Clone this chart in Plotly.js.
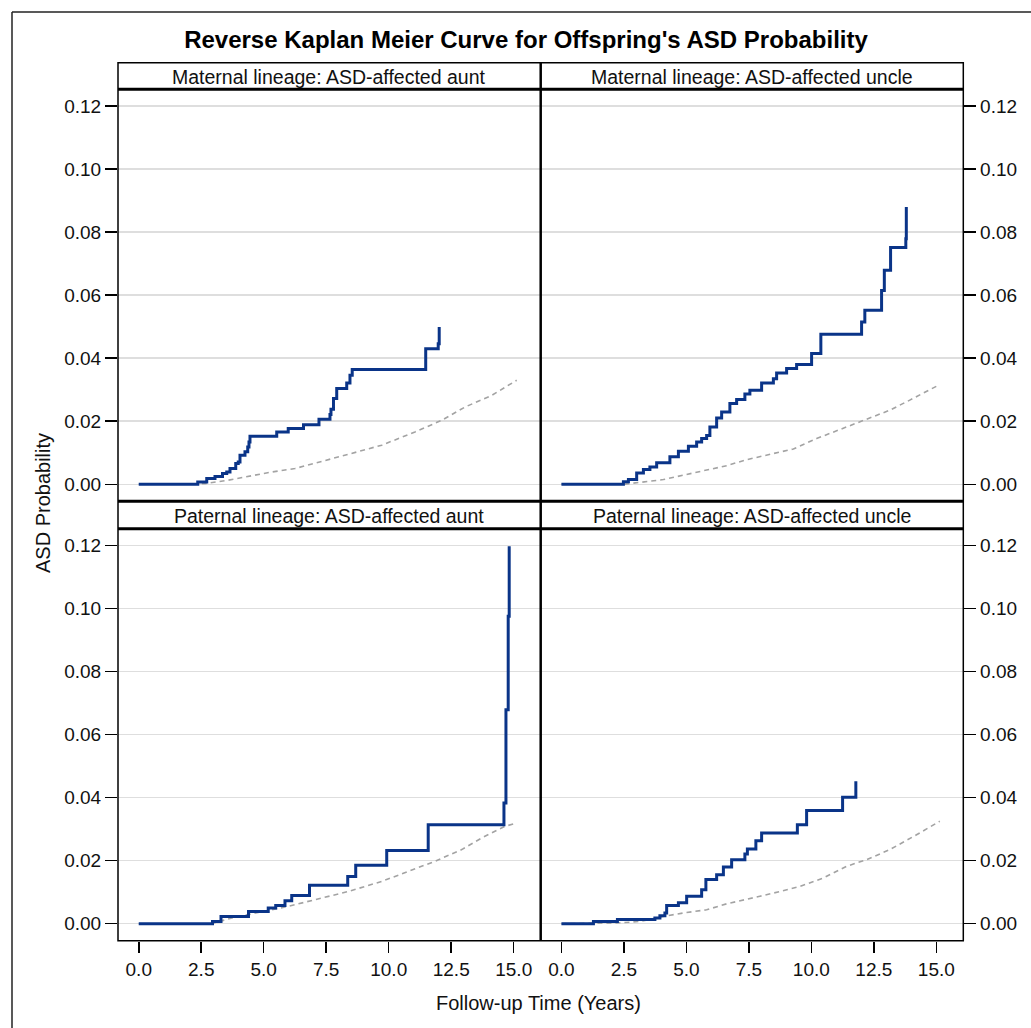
<!DOCTYPE html>
<html>
<head>
<meta charset="utf-8">
<script src="https://cdn.plot.ly/plotly-3.0.1.min.js"></script>
<style>html,body{margin:0;padding:0;background:#fff;}#chart{width:1031px;height:1028px;}</style>
</head>
<body>
<div id="chart"></div>
<script>
// ---------- DATA ----------
const chartTitle = "Reverse Kaplan Meier Curve for Offspring's ASD Probability";
const panelTitles = ["Maternal lineage: ASD-affected aunt", "Maternal lineage: ASD-affected uncle",
                     "Paternal lineage: ASD-affected aunt", "Paternal lineage: ASD-affected uncle"];
const xTitle = "Follow-up Time (Years)";
const yTitle = "ASD Probability";
const xTickVals = [0, 2.5, 5, 7.5, 10, 12.5, 15];
const yTickVals = [0, 0.02, 0.04, 0.06, 0.08, 0.10, 0.12];

// Maternal aunt
const maAuntTime = [0, 2.36, 2.72, 3.05, 3.35, 3.52, 3.65, 3.88, 3.98, 4.05, 4.25, 4.36, 4.41, 4.45, 5.52, 5.98, 6.59, 7.21, 7.65, 7.69, 7.79, 7.92, 8.32, 8.45, 8.54, 11.48, 11.98, 12.02];
const maAuntProb = [0, 0.0007, 0.0018, 0.0025, 0.0034, 0.0039, 0.0050, 0.0066, 0.0071, 0.0092, 0.0103, 0.0118, 0.0134, 0.0152, 0.0166, 0.0177, 0.0189, 0.0206, 0.0221, 0.0238, 0.0272, 0.0304, 0.0321, 0.0346, 0.0364, 0.0430, 0.0446, 0.0499];
const maAuntExpTime = [0, 2.65, 3.58, 4.39, 5.32, 6.25, 7.05, 8.38, 9.72, 11.05, 12.12, 13.05, 14.12, 15.12];
const maAuntExpProb = [0, 0.0002, 0.0013, 0.0026, 0.0039, 0.0050, 0.0066, 0.0095, 0.0124, 0.0166, 0.0203, 0.0245, 0.0282, 0.0330];

// Maternal uncle
const maUncleTime = [0, 2.48, 2.68, 3.01, 3.28, 3.54, 3.81, 4.34, 4.68, 5.08, 5.41, 5.61, 5.81, 5.94, 6.21, 6.41, 6.74, 7.01, 7.34, 7.54, 8.01, 8.48, 8.61, 9.01, 9.41, 10.01, 10.38, 12.01, 12.14, 12.81, 12.92, 13.17, 13.78, 13.80];
const maUncleProb = [0, 0.0008, 0.0015, 0.0036, 0.0047, 0.0055, 0.0068, 0.0087, 0.0105, 0.0121, 0.0134, 0.0145, 0.0155, 0.0182, 0.0210, 0.0229, 0.0256, 0.0269, 0.0286, 0.0298, 0.0321, 0.0335, 0.0353, 0.0367, 0.0380, 0.0415, 0.0476, 0.0515, 0.0552, 0.0615, 0.0679, 0.0751, 0.0779, 0.0880];
const maUncleExpTime = [0, 2.48, 3.14, 4.08, 4.88, 5.81, 6.61, 7.41, 8.48, 9.28, 10.21, 11.14, 12.08, 13.14, 13.94, 15.08];
const maUncleExpProb = [0, 0, 0.0006, 0.0015, 0.0029, 0.0044, 0.0059, 0.0078, 0.0097, 0.0112, 0.0145, 0.0174, 0.0203, 0.0235, 0.0267, 0.0314];

// Paternal aunt
const paAuntTime = [0, 2.95, 3.29, 4.39, 5.18, 5.48, 5.85, 6.12, 6.83, 8.36, 8.68, 9.92, 11.58, 14.61, 14.69, 14.78, 14.82];
const paAuntProb = [0, 0.0007, 0.0023, 0.0039, 0.0050, 0.0058, 0.0073, 0.0089, 0.0122, 0.0150, 0.0185, 0.0232, 0.0314, 0.0383, 0.0679, 0.0975, 0.1197];
const paAuntExpTime = [0, 2.92, 3.72, 4.65, 5.98, 7.05, 8.38, 9.72, 10.78, 11.85, 12.92, 13.72, 14.65, 15.12];
const paAuntExpProb = [0, 0, 0.0018, 0.0034, 0.0055, 0.0076, 0.0102, 0.0134, 0.0166, 0.0198, 0.0235, 0.0272, 0.0309, 0.0319];

// Paternal uncle
const paUncleTime = [0, 1.28, 2.24, 3.74, 3.94, 4.14, 4.21, 4.68, 5.01, 5.61, 5.78, 6.21, 6.48, 6.81, 7.34, 7.44, 7.78, 8.01, 9.44, 9.81, 11.25, 11.78];
const paUncleProb = [0, 0.0007, 0.0013, 0.0018, 0.0025, 0.0034, 0.0058, 0.0066, 0.0087, 0.0108, 0.0140, 0.0155, 0.0180, 0.0203, 0.0221, 0.0237, 0.0263, 0.0288, 0.0314, 0.0359, 0.0401, 0.0452];
const paUncleExpTime = [0, 2.21, 3.14, 4.08, 4.88, 5.81, 6.61, 7.41, 7.94, 8.74, 9.54, 10.48, 11.41, 12.21, 13.14, 14.21, 15.14];
const paUncleExpProb = [0, 0.0002, 0.0007, 0.0023, 0.0034, 0.0044, 0.0063, 0.0076, 0.0087, 0.0102, 0.0118, 0.0145, 0.0182, 0.0203, 0.0235, 0.0282, 0.0325];

// ---------- LAYOUT ----------
const W = 1031, H = 1028;
const fx = p => p / W;
const fy = p => 1 - p / H;
const FONT = "Liberation Sans, Arial, Helvetica, sans-serif";
const BLUE = "#0a3488";
const GREY = "#a3a3a3";

const gL = 118, gM = 540.7, gR = 963.3;
const hTop = 62.7, pTop = 89.3, pMidBot = 501.3, hMidBot = 528.7, pBot = 940.7;

const kmSets = [
  [maAuntTime, maAuntProb, maAuntExpTime, maAuntExpProb],
  [maUncleTime, maUncleProb, maUncleExpTime, maUncleExpProb],
  [paAuntTime, paAuntProb, paAuntExpTime, paAuntExpProb],
  [paUncleTime, paUncleProb, paUncleExpTime, paUncleExpProb]
];

const traces = [];
kmSets.forEach((s, i) => {
  const ax = i === 0 ? '' : String(i + 1);
  traces.push({x: s[2], y: s[3], type: 'scatter', mode: 'lines', xaxis: 'x' + ax, yaxis: 'y' + ax,
    line: {color: GREY, width: 1.6, dash: '5px,4px'}, hoverinfo: 'skip', showlegend: false});
  traces.push({x: s[0], y: s[1], type: 'scatter', mode: 'lines', xaxis: 'x' + ax, yaxis: 'y' + ax,
    line: {color: BLUE, width: 3, shape: 'hv'}, showlegend: false});
});

const xRange = [-0.83, 16.08];
const yRange = [-0.0054, 0.1253];
function xAx(dom, showLabels, anchor) {
  return {domain: dom, range: xRange, anchor: anchor, tickvals: xTickVals, tickformat: '.1f',
    showticklabels: showLabels, ticks: showLabels ? 'outside' : '', ticklen: 11, tickwidth: 1.5, tickcolor: '#000',
    showgrid: false, zeroline: false, showline: false,
    tickfont: {family: FONT, size: 19, color: '#111'}};
}
function yAx(dom, side, anchor) {
  return {domain: dom, range: yRange, anchor: anchor, side: side, tickvals: yTickVals, tickformat: '.2f',
    ticks: 'outside', ticklen: 12, tickwidth: 1.5, tickcolor: '#000',
    showgrid: true, gridcolor: '#dedede', gridwidth: 1.5, zeroline: false, showline: false,
    tickfont: {family: FONT, size: 19, color: '#111'}};
}
const dL = [fx(gL), fx(gM)], dR = [fx(gM), fx(gR)];
const dT = [fy(pMidBot), fy(pTop)], dB = [fy(pBot), fy(hMidBot)];

const shapes = [];
function rect(x0, y0, x1, y1, w) {
  shapes.push({type: 'rect', xref: 'paper', yref: 'paper', x0: fx(x0), x1: fx(x1), y0: fy(y1), y1: fy(y0),
    line: {color: '#000', width: w}, fillcolor: 'rgba(0,0,0,0)', layer: 'above'});
}
function line(x0, y0, x1, y1, w, c) {
  shapes.push({type: 'line', xref: 'paper', yref: 'paper', x0: fx(x0), x1: fx(x1), y0: fy(y0), y1: fy(y1),
    line: {color: c || '#000', width: w}, layer: 'above'});
}
// outer frame
line(12, 12, 1031, 12, 1.5, '#222');
line(12, 12, 12, 1028, 1.5, '#222');
// panels
rect(gL, hTop, gR, pBot, 1.5);
line(gL, pTop, gR, pTop, 3);
line(gL, pMidBot, gR, pMidBot, 3);
line(gL, hMidBot, gR, hMidBot, 3);
line(gM, hTop, gM, pBot, 2.5);

const annotations = [];
const headerCenters = [[(gL + gM) / 2, (hTop + pTop) / 2], [(gM + gR) / 2, (hTop + pTop) / 2],
                       [(gL + gM) / 2, (pMidBot + hMidBot) / 2], [(gM + gR) / 2, (pMidBot + hMidBot) / 2]];
panelTitles.forEach((t, i) => {
  annotations.push({text: t, xref: 'paper', yref: 'paper', x: fx(headerCenters[i][0]), y: fy(headerCenters[i][1] + 1),
    xanchor: 'center', yanchor: 'middle', showarrow: false, font: {family: FONT, size: 19.5, color: '#111'}});
});
annotations.push({text: xTitle, xref: 'paper', yref: 'paper', x: fx(538), y: fy(1003), xanchor: 'center', yanchor: 'middle',
  showarrow: false, font: {family: FONT, size: 20, color: '#111'}});
annotations.push({text: yTitle, xref: 'paper', yref: 'paper', x: fx(43), y: fy(503), xanchor: 'center', yanchor: 'middle',
  textangle: -90, showarrow: false, font: {family: FONT, size: 20, color: '#111'}});

const layout = {
  width: W, height: H, margin: {l: 0, r: 0, t: 0, b: 0}, paper_bgcolor: '#fff', plot_bgcolor: '#fff',
  showlegend: false,
  title: {text: chartTitle, x: fx(526), y: fy(40), xref: 'paper', yref: 'paper', xanchor: 'center', yanchor: 'middle',
    font: {family: FONT, size: 24, weight: 'bold', color: '#000'}},
  xaxis: xAx(dL, false, 'y'), yaxis: yAx(dT, 'left', 'x'),
  xaxis2: xAx(dR, false, 'y2'), yaxis2: yAx(dT, 'right', 'x2'),
  xaxis3: xAx(dL, true, 'y3'), yaxis3: yAx(dB, 'left', 'x3'),
  xaxis4: xAx(dR, true, 'y4'), yaxis4: yAx(dB, 'right', 'x4'),
  shapes: shapes, annotations: annotations
};
Plotly.newPlot('chart', traces, layout, {displayModeBar: false, staticPlot: true});
</script>
</body>
</html>
